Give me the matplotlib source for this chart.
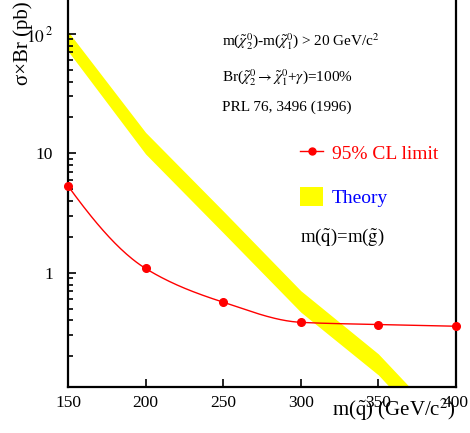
import numpy as np
import matplotlib
matplotlib.use("Agg")
from matplotlib import pyplot as plt
from matplotlib.lines import Line2D
from matplotlib.patches import Patch

# data
mass = [150, 200, 250, 300, 350, 400]
limit = [5.35, 1.09, 0.569, 0.386, 0.37, 0.358]        # 95% CL limit (pb)
theory_hi = [105.0, 15.0, 3.3, 0.71, 0.21, 0.043]       # theory band upper edge
theory_lo = [72.0, 9.9, 2.17, 0.47, 0.14, 0.028]        # theory band lower edge
xticks = [150, 200, 250, 300, 350, 400]
yticks = [1, 10, 100]
ytick_labels = ['1', '10', r'$10^{\,2}$']

plt.rcParams['font.family'] = ['Liberation Serif', 'DejaVu Serif']
plt.rcParams['mathtext.fontset'] = 'stix'


def smooth(x, y, n=200):
    # monotone cubic (pchip) through the points, in log space, only for drawing
    x = np.asarray(x, float); y = np.log10(y)
    h = np.diff(x); d = np.diff(y) / h
    m = np.zeros_like(y)
    for k in range(1, len(x) - 1):
        if d[k-1] * d[k] > 0:
            w1 = 2*h[k] + h[k-1]; w2 = h[k] + 2*h[k-1]
            m[k] = (w1 + w2) / (w1/d[k-1] + w2/d[k])
    m[0] = ((2*h[0] + h[1])*d[0] - h[0]*d[1]) / (h[0] + h[1])
    m[-1] = ((2*h[-1] + h[-2])*d[-1] - h[-1]*d[-2]) / (h[-1] + h[-2])
    xs = np.linspace(x[0], x[-1], n)
    i = np.clip(np.searchsorted(x, xs) - 1, 0, len(x) - 2)
    t = (xs - x[i]) / h[i]
    ys = ((2*t**3 - 3*t**2 + 1)*y[i] + (t**3 - 2*t**2 + t)*h[i]*m[i]
          + (-2*t**3 + 3*t**2)*y[i+1] + (t**3 - t**2)*h[i]*m[i+1])
    return xs, 10**ys


fig = plt.figure(figsize=(4.70, 4.33), dpi=100)
ax = fig.add_axes([68/470, 1 - 387/433, 388/470, 389/433])

ax.fill_between(mass, theory_lo, theory_hi, color='#ffff00', lw=0, zorder=1)
xs, ys = smooth(mass, limit)
ax.plot(xs, ys, color='red', lw=1, zorder=2)
ax.plot(mass, limit, 'o', color='red', ms=5.5, zorder=3, clip_on=False)

ax.set_yscale('log')
ax.set_xlim(150, 400)
ax.set_ylim(0.111, 200)
ax.set_xticks(xticks)
ax.set_yticks(yticks)
ax.set_yticklabels(ytick_labels)
ax.yaxis.set_minor_formatter(matplotlib.ticker.NullFormatter())
ax.tick_params(which='major', direction='in', length=6, width=1.2, labelsize=12.5, pad=6)
ax.tick_params(axis='y', which='major', pad=11)
ax.tick_params(which='minor', direction='in', length=3.5, width=1.2)
ax.tick_params(axis='x', which='minor', length=0)
ax.spines['top'].set_visible(False)
for s in ['left', 'bottom', 'right']:
    ax.spines[s].set_linewidth(1.6)

fig.text(23/470, 1 - 85/433, 'σ×Br (pb)', rotation=90,
         ha='center', va='bottom', fontsize=15)
fig.text(456/470, 1 - 410/433, r'm($\tilde{\rm q}$) (GeV/c$^2$)',
         ha='right', va='center', fontsize=15)

fig.text(222/470, 1 - 42/433,
         r'm($\tilde{\chi}^0_2$)-m($\tilde{\chi}^0_1$) > 20 GeV/c$^2$',
         ha='left', va='center', fontsize=11)
fig.text(222/470, 1 - 78/433,
         r'Br($\tilde{\chi}^0_2\rightarrow\tilde{\chi}^0_1$+$\gamma$)=100%',
         ha='left', va='center', fontsize=11)
fig.text(222/470, 1 - 107/433, 'PRL 76, 3496 (1996)',
         ha='left', va='center', fontsize=11)
fig.text(300/470, 1 - 237/433, r'm($\tilde{\rm q}$)=m($\tilde{\rm g}$)',
         ha='left', va='center', fontsize=13.5)

handles = [Line2D([], [], color='red', lw=1, marker='o', ms=5),
           Patch(facecolor='#ffff00', edgecolor='none')]
ax.legend(handles, ['95% CL limit', 'Theory'], loc='upper left',
          bbox_to_anchor=(300/470, 1 - 143/433), bbox_transform=fig.transFigure,
          frameon=False, fontsize=14, labelcolor=['red', 'blue'],
          handlelength=1.2, handleheight=1.15, handletextpad=0.42,
          labelspacing=1.2, borderpad=0, borderaxespad=0)

fig.savefig('out.png', dpi=100)
